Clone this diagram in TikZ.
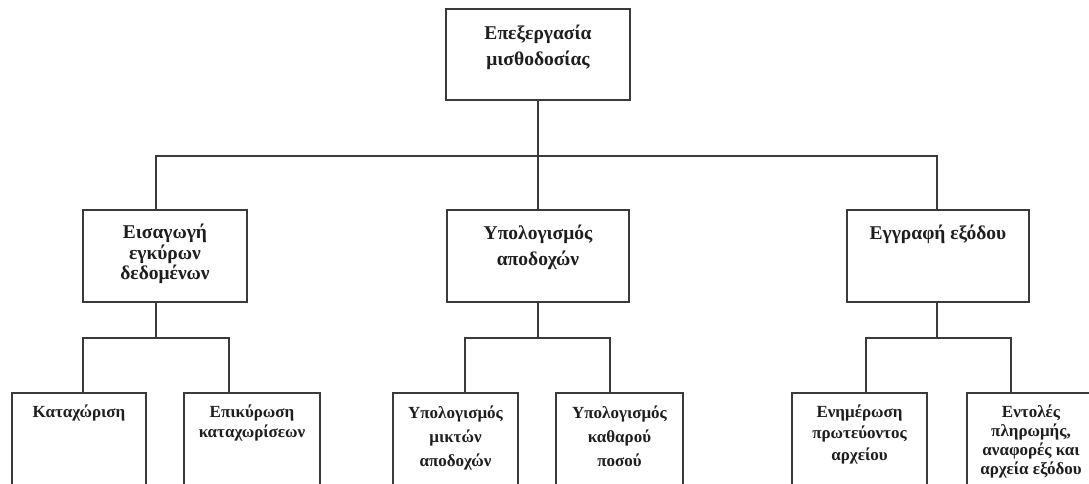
\documentclass[tikz,border=0pt]{standalone}
\usepackage{fontspec}
\setmainfont{Liberation Serif}
\definecolor{linegray}{HTML}{3A3A3A}
\definecolor{inkgray}{HTML}{1E1E1E}
\begin{document}
\begin{tikzpicture}[x=1pt,y=-1pt,
  box/.style={draw=linegray, line width=1.7pt, fill=white, rectangle,
    inner sep=0pt, outer sep=0pt},
  conn/.style={draw=linegray, line width=1.7pt},
  bigtxt/.style={anchor=north, align=center, inner sep=0pt, text=inkgray,
    font=\fontsize{19.5}{#1}\selectfont\bfseries,
    execute at begin node={\rule{0pt}{14pt}}},
  smalltxt/.style={anchor=north, align=center, inner sep=0pt, text=inkgray,
    font=\fontsize{17}{#1}\selectfont\bfseries,
    execute at begin node={\rule{0pt}{13pt}}}]
\clip (0,0) rectangle (1089,483);
\fill[white] (0,0) rectangle (1089,483);

% level 0
\node[box, minimum width=184pt, minimum height=91pt] (P) at (538,54.5) {};
% level 1
\node[box, minimum width=164pt, minimum height=92pt] (A) at (165,256) {};
\node[box, minimum width=182pt, minimum height=92pt] (B) at (538,256) {};
\node[box, minimum width=182pt, minimum height=92pt] (C) at (938,256) {};
% level 2 (running past the lower edge)
\node[box, minimum width=134pt, minimum height=130pt] (A1) at (79,458) {};
\node[box, minimum width=136pt, minimum height=130pt] (A2) at (252,458) {};
\node[box, minimum width=125pt, minimum height=130pt] (B1) at (455.5,458) {};
\node[box, minimum width=127pt, minimum height=130pt] (B2) at (619.5,458) {};
\node[box, minimum width=135pt, minimum height=130pt] (C1) at (859.5,458) {};
\node[box, minimum width=128pt, minimum height=130pt] (C2) at (1031,458) {};

% labels
\node[bigtxt=26] (Pt) at ([yshift=-16pt]P.north) {Επεξεργασία\\μισθοδοσίας};
\node[bigtxt=20.5] (At) at ([yshift=-14pt]A.north) {Εισαγωγή\\εγκύρων\\δεδομένων};
\node[bigtxt=26] (Bt) at ([yshift=-15pt]B.north) {Υπολογισμός\\αποδοχών};
\node[bigtxt=26] (Ct) at ([yshift=-15pt]C.north) {Εγγραφή εξόδου};
\node[smalltxt=20] (A1t) at ([yshift=-11.5pt]A1.north) {Καταχώριση};
\node[smalltxt=20] (A2t) at ([yshift=-11.5pt]A2.north) {Επικύρωση\\καταχωρίσεων};
\node[smalltxt=24] (B1t) at ([yshift=-13pt]B1.north) {Υπολογισμός\\μικτών\\αποδοχών};
\node[smalltxt=24] (B2t) at ([yshift=-13pt]B2.north) {Υπολογισμός\\καθαρού\\ποσού};
\node[smalltxt=21.5] (C1t) at ([yshift=-11.5pt]C1.north) {Ενημέρωση\\πρωτεύοντος\\αρχείου};
\node[smalltxt=19] (C2t) at ([yshift=-11.5pt]C2.north) {Εντολές\\πληρωμής,\\αναφορές και\\αρχεία εξόδου};

% junction points of the branch bars
\coordinate (barL) at (156,156);
\coordinate (barR) at (937,156);
\coordinate (aL) at (83,338);
\coordinate (aR) at (229,338);
\coordinate (bL) at (465,338);
\coordinate (bR) at (610,338);
\coordinate (cL) at (866,338);
\coordinate (cR) at (1011,338);

% connectors
\draw[conn] (P.south) -- (B.north);
\draw[conn] (barL |- A.north) -- (barL) -- (barR) -- (barR |- C.north);
\draw[conn] (barL |- A.south) -- (barL |- aL);
\draw[conn] (aL |- A1.north) -- (aL) -- (aR) -- (aR |- A2.north);
\draw[conn] (B.south) -- (B.south |- bL);
\draw[conn] (bL |- B1.north) -- (bL) -- (bR) -- (bR |- B2.north);
\draw[conn] (barR |- C.south) -- (barR |- cL);
\draw[conn] (cL |- C1.north) -- (cL) -- (cR) -- (cR |- C2.north);
\end{tikzpicture}
\end{document}
